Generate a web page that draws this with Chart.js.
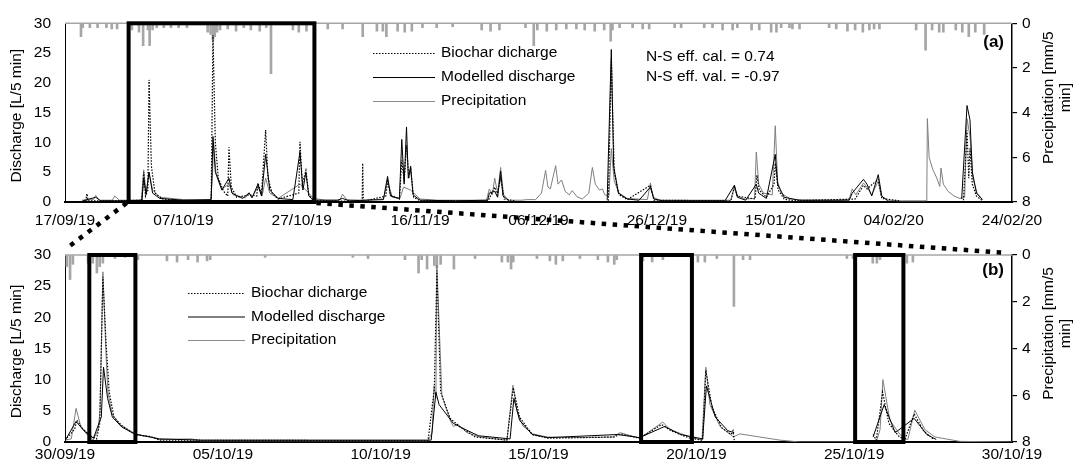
<!DOCTYPE html>
<html>
<head>
<meta charset="utf-8">
<script src="https://cdn.jsdelivr.net/npm/chart.js@4.4.1/dist/chart.umd.min.js"></script>
<style>
  html, body { margin: 0; padding: 0; background: #fff; }
  #wrap { position: relative; width: 1084px; height: 469px; }
  canvas { position: absolute; left: 0; }
  #chartA { top: 0; }
  #chartB { top: 230px; }
  #overlay { top: 0; pointer-events: none; }
</style>
</head>
<body>
<div id="wrap">
  <canvas id="chartA" width="1084" height="230"></canvas>
  <canvas id="chartB" width="1084" height="239"></canvas>
  <canvas id="overlay" width="1084" height="469"></canvas>
</div>
<script>
// x values are days since the first tick of each panel
const ticksA = ['17/09/19', '07/10/19', '27/10/19', '16/11/19', '06/12/19', '26/12/19', '15/01/20', '04/02/20', '24/02/20'];
const ticksB = ['30/09/19', '05/10/19', '10/10/19', '15/10/19', '20/10/19', '25/10/19', '30/10/19'];

// panel (a): 17/09/19 - 24/02/20
const precipA = [
  [2.7, 0.6], [3.0, 0.2], [4.2, 0.2], [5.5, 0.2], [7.0, 0.2], [7.9, 0.25], [8.8, 0.25],
  [11.3, 0.3], [12.5, 0.4], [13.2, 1.0], [14.0, 0.3], [14.3, 1.0], [14.8, 0.3],
  [15.5, 0.2], [16.7, 0.2], [17.9, 0.2], [19.2, 0.2], [20.6, 0.2],
  [24.1, 0.4], [24.6, 0.5], [25.0, 0.75], [25.3, 0.6], [25.7, 0.4],
  [26.2, 0.3], [27.5, 0.25], [28.9, 0.35], [30.2, 0.2], [31.4, 0.3], [32.9, 0.35], [34.0, 0.2], [34.8, 2.25],
  [38.5, 0.3], [39.5, 0.4], [40.8, 0.35], [44.4, 0.25], [46.9, 0.25], [50.3, 0.6], [52.7, 0.35], [53.7, 0.35], [54.3, 0.6],
  [56.2, 0.35], [57.4, 0.4], [58.6, 0.35], [60.4, 0.2], [62.8, 0.2], [65.5, 0.15],
  [70.4, 0.3], [71.9, 0.35], [73.4, 0.3], [77.8, 0.2], [79.2, 1.0], [79.8, 0.3], [81.4, 0.35], [83.0, 0.3],
  [84.7, 0.25], [86.4, 0.25], [87.8, 0.3], [89.5, 0.35], [91.1, 0.3], [92.2, 0.8], [92.5, 0.3],
  [93.7, 0.2], [95.9, 0.2], [97.6, 0.25], [98.7, 0.25], [103.0, 0.2], [104.1, 0.2], [108.0, 0.2], [109.4, 0.2],
  [111.1, 0.3], [112.8, 0.3], [113.6, 0.2], [116.0, 0.3], [117.3, 0.3], [119.3, 0.4], [120.2, 0.4], [121.0, 0.2],
  [122.4, 0.2], [122.9, 0.25], [124.1, 0.25], [129.1, 0.2], [130.3, 0.25], [132.2, 0.35], [133.5, 0.3], [134.8, 0.4], [135.9, 0.3],
  [136.7, 0.25], [137.6, 0.25], [143.8, 0.3], [145.4, 1.2], [146.5, 0.3], [147.7, 0.4], [148.4, 0.4],
  [150.5, 0.3], [151.6, 0.4], [152.7, 0.6], [153.8, 0.4], [155.3, 0.5]
];
const simA = [
  [2.8, 0.3], [4.8, 0.4], [5.2, 1.1], [5.8, 0.3], [8.0, 0.3], [8.4, 1.0], [9.2, 0.3], [12.9, 0.3], [13.3, 5.4], [13.7, 1.5],
  [14.2, 5.0], [14.8, 2.0], [16, 0.8], [20, 0.4], [24.6, 0.3], [24.9, 4], [25.1, 10], [25.5, 5], [26.5, 2.2], [27.7, 3],
  [28.4, 1.2], [30.5, 0.7], [31.1, 1.6], [31.6, 0.8], [32.6, 2.5], [33.3, 1], [33.9, 4], [34.6, 1.5], [36, 0.6], [39.7, 3],
  [40.7, 2], [42, 0.6], [44, 0.3], [46.4, 0.3], [46.9, 1.3], [47.6, 0.4], [50, 0.3], [53.8, 0.5], [54.5, 3.5], [55.3, 0.8],
  [56.6, 0.6], [57.2, 2.5], [58.4, 2], [60, 0.5], [63, 0.3], [71.2, 0.3], [71.7, 2.2], [72.2, 1.2], [72.6, 4], [73.1, 1.5],
  [73.6, 5.8], [74.1, 1.2], [75, 0.3], [77.2, 0.3], [78, 0.4], [79.5, 0.4], [80.5, 1.5], [81.2, 5.3], [81.6, 2.5], [82.0, 2.2],
  [82.9, 6.1], [83.3, 3], [83.9, 3.7], [84.5, 1.8], [85.2, 1.2], [85.7, 1.9], [86.5, 0.9], [87.4, 0.5], [88.5, 1.5], [89.1, 5.8],
  [89.6, 3], [90.3, 2], [90.8, 2.2], [91.2, 1.2], [91.9, 1], [92.3, 9], [92.8, 3.5], [93.6, 1.5], [95, 0.6], [98.4, 0.4],
  [98.9, 3.2], [99.4, 0.8], [100.5, 0.3], [112.5, 0.3], [113.1, 2.8], [113.6, 1], [115, 0.5], [116.5, 0.6], [116.8, 8.4], [117.2, 3],
  [118, 1.5], [119.5, 1.2], [120.0, 12.8], [120.4, 3.5], [121, 1.5], [122.5, 0.5], [125, 0.3], [131, 0.3], [132.5, 0.5], [133.0, 2.2],
  [133.6, 1.2], [134.9, 3.2], [135.5, 2.5], [136.3, 1.2], [137.4, 3.5], [137.9, 1], [139, 0.3], [141, 0.2], [145.6, 0.2], [145.7, 14],
  [146.0, 7.5], [146.6, 5.5], [147.3, 4], [147.8, 2.6], [148.0, 5.7], [148.4, 3], [149.2, 1.8], [150.2, 1], [151.2, 0.6], [152.0, 0.8],
  [152.4, 14], [152.9, 11], [153.4, 4], [154.1, 1.5], [155, 0.4]
];
const modelledA = [
  [3, 0.2], [5.2, 0.8], [6, 0.2], [10, 0.2], [13.0, 0.3], [13.3, 4], [13.7, 1.2], [14.2, 5], [14.8, 1.5], [16, 0.6], [20, 0.3],
  [24.7, 0.4], [25.0, 11], [25.4, 5], [26.5, 2], [27.7, 4], [28.2, 1.5], [30, 0.6], [31.1, 1.5], [31.6, 0.7], [32.6, 3], [33.2, 1],
  [33.9, 8], [34.6, 2], [36, 0.6], [38.5, 0.4], [39.7, 8.4], [40.2, 2], [40.7, 5], [41.2, 1], [42, 0.3], [46, 0.3], [46.9, 0.6],
  [48, 0.2], [53.8, 0.4], [54.5, 4.3], [55, 1], [56.5, 0.6], [56.9, 10.5], [57.3, 3], [57.7, 12.6], [58.0, 4], [58.4, 6], [58.8, 1.2],
  [60, 0.3], [66, 0.2], [71.4, 0.3], [71.7, 1.5], [72.6, 1.8], [73.1, 0.8], [73.6, 5.2], [74, 1], [75, 0.2], [76, null],
  [91.6, 0.3], [92.3, 25.6], [92.7, 6], [93.5, 1.5], [95, 0.5], [97, 0.3], [98.9, 2.5], [99.5, 0.5], [101, 0.2], [111.5, 0.2],
  [113.1, 2.8], [113.6, 0.8], [115, 0.3], [116.8, 3], [117.2, 1.5], [118.5, 0.6], [120.0, 8], [120.4, 3], [121.5, 0.8], [124, 0.3],
  [132.5, 0.3], [133, 1.5], [134.9, 3.8], [135.5, 3], [136.3, 1], [137.4, 4.6], [138, 1], [139, 0.2], [140, null],
  [151.5, 0.5], [152.4, 16.2], [152.9, 13.8], [153.3, 5], [154, 1.5], [155, 0.4]
];
const biocharA = [
  [3.5, 0.1], [3.7, 1.4], [3.9, 0.2], [8, 0.2], [13.0, 0.3], [13.3, 5], [13.6, 1], [14.0, 2], [14.2, 20.5], [14.6, 6], [15.2, 1.5],
  [16.5, 0.5], [20, 0.2], [24.7, 0.3], [25.0, 28], [25.4, 10], [25.9, 4], [26.8, 1.8], [27.5, 1], [27.7, 9.2], [28.1, 2.5], [29, 0.8],
  [31.1, 1.2], [32.4, 1], [32.6, 3.2], [33.2, 1.3], [33.9, 12.1], [34.3, 4], [35, 1.5], [36, 0.5], [39.5, 1.5], [39.7, 10.1], [40.1, 3],
  [40.7, 5.3], [41.2, 1.2], [42, 0.2], [50.2, 0.1], [50.3, 6.5], [50.4, 0.1], [54.2, 1], [54.5, 3.5], [55, 1.2], [56.5, 0.5], [56.9, 7],
  [57.3, 3.5], [57.7, 9.5], [58.1, 4], [58.4, 5.5], [58.9, 0.8], [60, 0.2], [71.5, 0.2], [72.6, 2.5], [73.0, 1.2], [73.6, 4], [74.2, 0.5],
  [76, 0.2], [76.5, null], [91.8, 0.2], [92.3, 24], [92.8, 5], [93.6, 1.2], [95, 0.4], [98.9, 2.8], [99.5, 0.3], [112.5, 0.2],
  [113.1, 2.5], [113.6, 1], [116.6, 0.5], [116.9, 4.5], [117.3, 2], [118.5, 0.8], [119.8, 3], [120.0, 6.5], [120.5, 2], [121.5, 0.5],
  [123, 0.2], [133.5, 0.5], [134.9, 2.8], [135.5, 2.2], [137.4, 3.8], [138, 0.6], [141, 0.2], [141.5, null],
  [151.8, 0.3], [152.4, 12], [152.7, 4], [152.9, 9], [153.3, 3], [154, 1], [155, 0.2]
];

// panel (b): 30/09/19 - 30/10/19
const precipB = [
  [0.06, 0.5], [0.16, 1.05], [0.25, 0.4], [0.73, 0.35], [0.88, 0.35], [1.01, 0.77], [1.1, 0.5], [1.2, 0.35],
  [1.58, 0.15], [1.9, 0.1], [2.31, 0.2], [3.23, 0.25], [3.55, 0.3], [3.9, 0.2], [4.2, 0.3], [4.5, 0.25], [4.6, 0.2],
  [6.34, 0.1], [9.12, 0.1], [9.6, 0.15], [10.77, 0.2], [11.2, 0.77], [11.3, 0.2], [11.47, 0.6], [11.7, 0.45], [11.78, 0.55], [11.9, 0.4],
  [12.32, 0.6], [12.99, 0.15], [13.84, 0.3], [14.03, 0.3], [14.13, 0.6], [14.2, 0.3], [14.95, 0.15], [15.36, 0.25], [15.55, 0.4], [15.77, 0.25],
  [16.31, 0.15], [16.88, 0.2], [17.2, 0.3], [17.4, 0.4], [17.48, 0.2], [18.31, 0.25], [18.6, 0.3], [18.94, 0.2],
  [20.05, 0.3], [20.27, 0.3], [20.65, 0.15], [21.19, 2.2], [21.48, 0.2], [21.7, 0.2], [24.77, 0.15], [24.96, 0.15],
  [25.59, 0.35], [25.72, 0.35], [25.82, 0.2], [26.67, 0.35], [26.86, 0.3]
];
const simB = [
  [0, 0.3], [0.2, 0.5], [0.35, 5.4], [0.5, 2.5], [0.73, 1.0], [0.89, 0.3], [1.05, 2], [1.11, 5], [1.2, 27.3], [1.3, 14], [1.36, 8],
  [1.49, 4.5], [1.74, 2.8], [2.06, 1.8], [2.25, 1.2], [2.69, 0.8], [3.0, 0.4], [4.0, 0.5], [4.3, 0.2], [11.5, 0.2], [11.63, 1.5],
  [11.69, 9.0], [11.75, 7], [11.78, 28.4], [11.94, 7.5], [12.2, 3.5], [12.3, 2.5], [12.45, 2.8], [12.73, 1.5], [13.15, 0.8], [14.0, 0.3],
  [14.19, 9.1], [14.32, 5], [14.5, 2.6], [14.82, 1.3], [15.27, 0.8], [16, 0.7], [17.36, 0.8], [17.58, 1.5], [18.21, 0.6], [18.94, 3.2],
  [19.16, 2], [19.8, 0.8], [20.18, 0.3], [20.3, 12], [20.43, 6], [20.75, 2.5], [21.06, 1.3], [21.16, 0.8], [21.38, 1.3], [22.01, 0.8],
  [22.65, 0.3], [23.28, 0], [25.7, 0], [25.82, 2], [25.91, 10], [26.13, 3.5], [26.45, 1.2], [26.61, 0.5], [26.7, 0.4], [26.92, 5.1],
  [27.24, 2], [27.56, 0.8], [28.35, 0.1], [30, 0]
];
const modelledB = [
  [0, 0.2], [0.35, 3.3], [0.6, 1.8], [0.9, 0.6], [1.15, 4], [1.22, 12], [1.35, 7], [1.5, 4], [1.8, 2.4], [2.2, 1.3], [2.7, 0.8],
  [3.0, 0.5], [4.3, 0.3], [11.6, 0.3], [11.75, 8], [11.85, 6], [12.0, 5], [12.3, 3], [12.6, 2.2], [13.1, 1], [14.1, 0.5], [14.22, 7],
  [14.4, 3.5], [14.8, 1.2], [15.3, 0.7], [17.5, 1.2], [18.2, 0.7], [19.0, 2.5], [19.5, 1.2], [20.2, 0.5], [20.32, 9], [20.6, 4],
  [21.0, 1.8], [21.2, 1.5], [21.3, null], [25.6, 0.8], [25.95, 6], [26.3, 1.5], [26.9, 3.8], [27.3, 1.2], [27.6, 0.4]
];
const biocharB = [
  [0, 0.3], [0.3, 2], [0.38, 3.5], [0.55, 2.2], [0.8, 1], [1.0, 0.5], [1.1, 3], [1.2, 26.5], [1.3, 16], [1.4, 8], [1.55, 4],
  [1.8, 2.6], [2.1, 1.6], [2.3, 1.1], [2.7, 0.9], [3, 0.3], [11.5, 0.2], [11.7, 8.5], [11.78, 27.5], [11.9, 8], [12.2, 3.8],
  [12.5, 2.5], [13, 0.8], [14.0, 0.3], [14.2, 8.7], [14.4, 4], [14.8, 1.2], [15.3, 0.6], [17.4, 0.8], [17.6, 1.3], [18.2, 0.6],
  [18.9, 2.8], [19.2, 1.8], [19.8, 0.6], [20.2, 0.3], [20.3, 11.5], [20.5, 5.5], [20.8, 2.3], [21.1, 1.2], [21.16, 1.8], [21.2, 0.3],
  [21.3, null], [25.6, 1.2], [25.7, 0.3], [25.9, 8], [26.1, 3], [26.4, 1], [26.6, 0.3], [26.9, 4.5], [27.2, 1.8], [27.5, 0.5]
];

// zoomed periods (days)
const zoomBoxA = [[10.75, 42.14]];
const zoomBoxesB = [[0.77, 2.23], [18.25, 19.86], [25.03, 26.56]];
const nsText = ['N-S eff. cal. = 0.74', 'N-S eff. val. = -0.97'];

const FONT = '"Liberation Sans", Arial, sans-serif';
Chart.defaults.font.family = FONT;
Chart.defaults.font.size = 15.5;
Chart.defaults.color = '#000';

const toXY = arr => arr.map(([x, y]) => ({ x, y }));

const decor = {
  id: 'decor',
  afterDatasetsDraw(chart, args, o) {
    const { ctx, chartArea: a, scales } = chart;
    ctx.save();
    ctx.strokeStyle = '#a6a6a6';
    ctx.lineWidth = 1.5;
    ctx.beginPath();
    ctx.moveTo(a.left, a.top);
    ctx.lineTo(a.right, a.top);
    ctx.stroke();
    ctx.strokeStyle = '#000';
    ctx.lineWidth = 4;
    o.boxes.forEach(([d0, d1]) => {
      const x0 = scales.x.getPixelForValue(d0), x1 = scales.x.getPixelForValue(d1);
      const y0 = scales.y.getPixelForValue(30), y1 = scales.y.getPixelForValue(0);
      ctx.strokeRect(x0, y0, x1 - x0, y1 - y0);
    });
    ctx.restore();
  },
  afterDraw(chart, args, o) {
    const { ctx, chartArea: a } = chart;
    const ds = chart.data.datasets;
    ctx.save();
    ctx.font = '15.5px ' + FONT;
    ctx.textBaseline = 'middle';
    ctx.fillStyle = '#000';
    // legend
    o.legendItems.forEach((idx, i) => {
      const d = ds[idx];
      const y = o.legend.y + i * o.legend.dy;
      ctx.strokeStyle = d.legendColor || d.borderColor;
      ctx.lineWidth = 1;
      ctx.setLineDash(d.borderDash || []);
      ctx.beginPath();
      ctx.moveTo(o.legend.x, y + 0.5);
      ctx.lineTo(o.legend.x + o.legend.len, y + 0.5);
      ctx.stroke();
      ctx.setLineDash([]);
      ctx.textAlign = 'left';
      ctx.fillText(d.label, o.legend.x + o.legend.len + 6, y);
    });
    // efficiency notes
    (o.notes || []).forEach((t, i) => ctx.fillText(t, 646, 57 + i * 20));
    // panel label
    ctx.font = 'bold 17px ' + FONT;
    ctx.textAlign = 'right';
    ctx.fillText(o.panel, 1004, a.top + o.panelDy);
    // axis titles
    const mid = (a.top + a.bottom) / 2;
    ctx.font = '15.5px ' + FONT;
    ctx.textAlign = 'center';
    ctx.save();
    ctx.translate(17, mid + 3);
    ctx.rotate(-Math.PI / 2);
    ctx.fillText('Discharge [L/5 min]', 0, 0);
    ctx.restore();
    ctx.save();
    ctx.translate(1049, mid - 15);
    ctx.rotate(-Math.PI / 2);
    ctx.fillText('Precipitation [mm/5', 0, 0);
    ctx.fillText('min]', 0, 17);
    ctx.restore();
    ctx.restore();
  }
};

function makeChart(id, cfg) {
  return new Chart(document.getElementById(id), {
    type: 'line',
    data: {
      datasets: [
        { type: 'bar', label: 'Precipitation', data: toXY(cfg.precip), yAxisID: 'y2',
          backgroundColor: '#a6a6a6', legendColor: '#8c8c8c', borderWidth: 0, barThickness: 2, order: 4 },
        { label: 'Simulated', data: toXY(cfg.sim), borderColor: '#7f7f7f', borderWidth: 1, order: 3 },
        { label: 'Modelled discharge', data: toXY(cfg.modelled), borderColor: '#000', borderWidth: 1, order: 2 },
        { label: 'Biochar dicharge', data: toXY(cfg.biochar), borderColor: '#000', borderWidth: 1.2,
          borderDash: [1.5, 1.5], order: 1 }
      ]
    },
    options: {
      responsive: false,
      animation: false,
      events: [],
      layout: { padding: { top: cfg.top } },
      elements: { point: { radius: 0 }, line: { tension: 0 } },
      plugins: {
        legend: { display: false },
        tooltip: { enabled: false },
        decor: {
          boxes: cfg.boxes,
          legendItems: [3, 2, 0],
          legend: cfg.legend,
          notes: cfg.notes,
          panel: cfg.panel,
          panelDy: cfg.panelDy
        }
      },
      scales: {
        x: {
          type: 'linear', min: 0, max: cfg.max, offset: false,
          ticks: { stepSize: cfg.step, padding: cfg.tickPad, maxRotation: 0, autoSkip: false,
            callback: v => cfg.labels[Math.round(v / cfg.step)] },
          grid: { display: false, drawTicks: false },
          border: { color: '#000', width: 2 },
          afterFit: s => { s.height = cfg.xh; }
        },
        y: {
          min: 0, max: 30,
          ticks: { stepSize: 5, padding: 14 },
          grid: { display: false, drawTicks: false },
          border: { color: '#000', width: 1 },
          afterFit: s => { s.width = 65; }
        },
        y2: {
          position: 'right', min: 0, max: 8, reverse: true,
          ticks: { stepSize: 2, padding: 5 },
          grid: { drawOnChartArea: false, tickLength: 5, color: '#000', lineWidth: 1.2 },
          border: { color: '#000', width: 1.5 },
          afterFit: s => { s.width = 72; }
        }
      }
    },
    plugins: [decor]
  });
}

const chartA = makeChart('chartA', {
  precip: precipA, sim: simA, modelled: modelledA, biochar: biocharA,
  labels: ticksA, max: 160, step: 20, top: 16, xh: 28, tickPad: 9,
  boxes: zoomBoxA, legend: { x: 373, y: 53, dy: 24, len: 62 }, notes: nsText,
  panel: '(a)', panelDy: 19
});
const chartB = makeChart('chartB', {
  precip: precipB, sim: simB, modelled: modelledB, biochar: biocharB,
  labels: ticksB, max: 30, step: 5, top: 25, xh: 27, tickPad: 3,
  boxes: zoomBoxesB, legend: { x: 188, y: 63, dy: 23.5, len: 57 }, notes: [],
  panel: '(b)', panelDy: 15
});

// dotted connectors from the zoom box in (a) to panel (b)
function drawConnectors() {
  const ctx = document.getElementById('overlay').getContext('2d');
  const offB = 230;
  const xa = chartA.scales.x, ya = chartA.scales.y;
  const b = chartB.chartArea;
  const yBottomA = ya.getPixelForValue(0) + 1;
  ctx.clearRect(0, 0, 1084, 469);
  ctx.strokeStyle = '#000';
  ctx.lineWidth = 4.5;
  ctx.setLineDash([4.5, 6.5]);
  ctx.beginPath();
  ctx.moveTo(xa.getPixelForValue(zoomBoxA[0][0]) - 2, yBottomA);
  ctx.lineTo(b.left + 2, b.top + offB - 7);
  ctx.moveTo(xa.getPixelForValue(zoomBoxA[0][1]) + 2, yBottomA);
  ctx.lineTo(b.right - 5, b.top + offB - 2);
  ctx.stroke();
}
drawConnectors();
</script>
</body>
</html>
